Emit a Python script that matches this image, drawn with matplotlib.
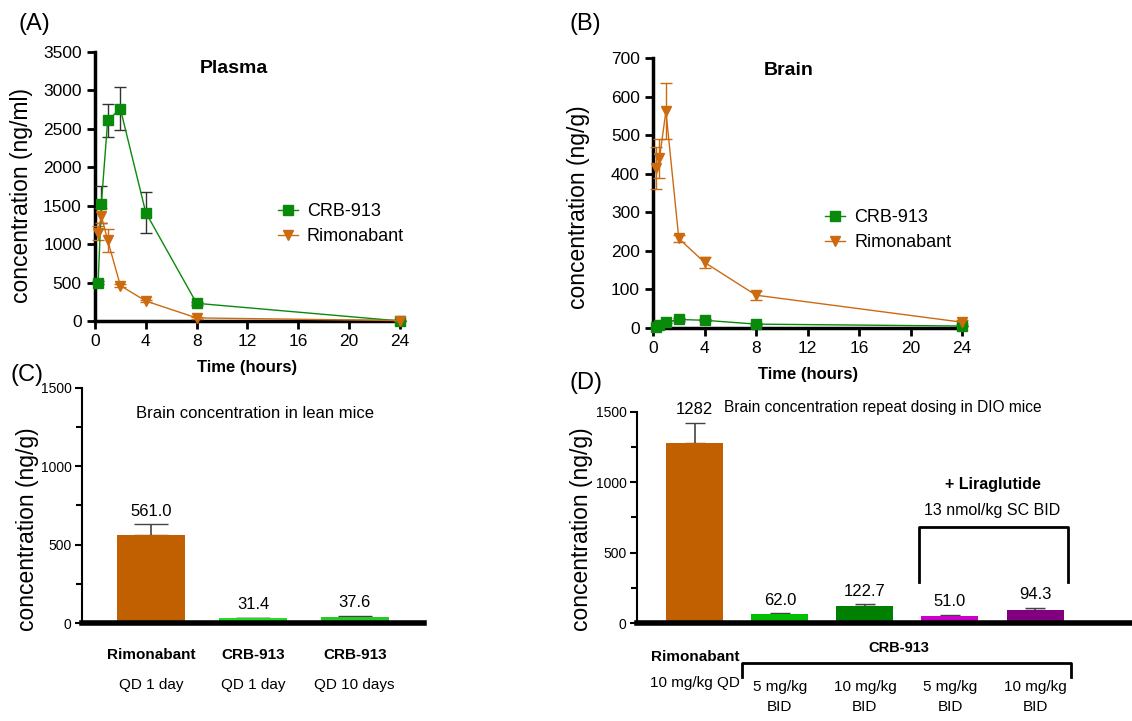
import matplotlib
matplotlib.use("Agg")
import matplotlib.pyplot as plt
from matplotlib.ticker import MultipleLocator
import matplotlib.transforms as mtrans

plt.rcParams['font.family'] = ['Liberation Sans', 'DejaVu Sans']

# ---------------- data ----------------
# (A) plasma PK
time_h = [0.25, 0.5, 1, 2, 4, 8, 24]
plasma_crb = [500, 1520, 2610, 2760, 1410, 230, 0]
plasma_crb_err = [15, 240, 210, 280, 270, 20, 5]
plasma_rimo = [1150, 1370, 1050, 460, 260, 40, 5]
plasma_rimo_err = [90, 100, 150, 20, 15, 10, 3]

# (B) brain PK
brain_crb = [2, 8, 15, 22, 20, 10, 5]
brain_crb_err = [1, 2, 3, 3, 3, 2, 1]
brain_rimo = [415, 440, 562, 232, 170, 85, 15]
brain_rimo_err = [55, 50, 73, 10, 15, 12, 5]

# (C) lean mice
lean_names = ['Rimonabant', 'CRB-913', 'CRB-913']
lean_dosing = ['QD 1 day', 'QD 1 day', 'QD 10 days']
lean_vals = [561.0, 31.4, 37.6]
lean_err = [70, 3, 8]
lean_colors = ['#C06000', '#22DD22', '#22CC22']

# (D) DIO mice
dio_dose = ['10 mg/kg QD', '5 mg/kg\nBID', '10 mg/kg\nBID', '5 mg/kg\nBID', '10 mg/kg\nBID']
dio_vals = [1282, 62.0, 122.7, 51.0, 94.3]
dio_err = [140, 8, 10, 6, 13]
dio_labels = ['1282', '62.0', '122.7', '51.0', '94.3']
dio_colors = ['#C06000', '#00C000', '#008000', '#CC00CC', '#800080']

GREEN = '#0A8A0A'
ORANGE = '#CC6A10'
FS = 11  # text size in the bar panels

fig = plt.figure(figsize=(11.32, 7.21), dpi=100)


def style_pk(ax):
    for s in ['top', 'right']:
        ax.spines[s].set_visible(False)
    for s in ['left', 'bottom']:
        ax.spines[s].set_linewidth(2.5)
    ax.tick_params(width=2, length=6, labelsize=12.5, direction='out')
    ax.set_xlim(0, 24)
    ax.set_xticks([0, 4, 8, 12, 16, 20, 24])
    ax.set_xlabel('Time (hours)', fontsize=12, fontweight='bold', labelpad=8)


def pk_panel(ax, crb, crb_err, rimo, rimo_err, ymax, ystep, ylabel, title, tpos, lpos, lcoord):
    ax.errorbar(time_h, crb, yerr=crb_err, color=GREEN, ecolor='#333333', marker='s', ms=7,
                lw=1, elinewidth=1, capsize=4, label='CRB-913', clip_on=False, zorder=3)
    ax.errorbar(time_h, rimo, yerr=rimo_err, color=ORANGE, ecolor=ORANGE, marker='v', ms=7,
                lw=1, elinewidth=1, capsize=4, label='Rimonabant', clip_on=False, zorder=3)
    ax.set_ylim(0, ymax)
    ax.yaxis.set_major_locator(MultipleLocator(ystep))
    ax.set_ylabel(ylabel, fontsize=16.5)
    ax.yaxis.set_label_coords(*lcoord)
    ax.text(tpos[0], tpos[1], title, transform=ax.transAxes, fontsize=14,
            fontweight='bold', ha='center', va='center')
    style_pk(ax)
    handles, labels = ax.get_legend_handles_labels()
    handles = [h[0] for h in handles]
    ax.legend(handles, labels, frameon=False, fontsize=13, loc='center left',
              bbox_to_anchor=lpos, handlelength=1.1, handletextpad=0.5,
              borderaxespad=0, borderpad=0, labelspacing=0.45)


axA = fig.add_axes([0.0839, 0.5548, 0.2694, 0.3731])
pk_panel(axA, plasma_crb, plasma_crb_err, plasma_rimo, plasma_rimo_err,
         3500, 500, 'concentration (ng/ml)', 'Plasma', (0.456, 0.94), (0.60, 0.359),
         (-0.203, 0.465))

axB = fig.add_axes([0.5769, 0.5451, 0.2730, 0.3745])
pk_panel(axB, brain_crb, brain_crb_err, brain_rimo, brain_rimo_err,
         700, 100, 'concentration (ng/g)', 'Brain', (0.44, 0.955), (0.557, 0.363),
         (-0.205, 0.448))


def style_bar(ax, lcoord):
    for s in ['top', 'right']:
        ax.spines[s].set_visible(False)
    ax.spines['left'].set_linewidth(1.5)
    ax.spines['bottom'].set_linewidth(4)
    ax.set_ylim(0, 1500)
    ax.yaxis.set_major_locator(MultipleLocator(500))
    ax.yaxis.set_minor_locator(MultipleLocator(250))
    ax.tick_params(axis='y', which='both', width=1.5, labelsize=10)
    ax.tick_params(axis='y', which='major', length=5, pad=2.5)
    ax.tick_params(axis='y', which='minor', length=4)
    ax.tick_params(axis='x', length=0, labelbottom=False)
    ax.set_ylabel('concentration (ng/g)', fontsize=16.5)
    ax.yaxis.set_label_coords(*lcoord)


# (C)
axC = fig.add_axes([0.0724, 0.1359, 0.3021, 0.3260])
xc = list(range(len(lean_vals)))
axC.bar(xc, lean_vals, width=0.67, color=lean_colors, zorder=2)
axC.errorbar(xc, lean_vals, yerr=[[0] * 3, lean_err], fmt='none', ecolor='#444444',
             elinewidth=1.2, capsize=12.5, zorder=1)
axC.set_xlim(-0.68, 2.68)
style_bar(axC, (-0.125, 0.40))
for x, v, e in zip(xc, lean_vals, lean_err):
    axC.text(x, v + e + 35, f'{v:.1f}', ha='center', va='bottom', fontsize=12)
axC.text(1.02, 1340, 'Brain concentration in lean mice', ha='center', va='center',
         fontsize=12)
trC = mtrans.blended_transform_factory(axC.transData, axC.transAxes)
for x, n, d in zip(xc, lean_names, lean_dosing):
    axC.text(x, -0.136, n, transform=trC, ha='center', va='center', fontsize=FS,
             fontweight='bold')
    axC.text(x, -0.264, d, transform=trC, ha='center', va='center', fontsize=FS)

# (D)
axD = fig.add_axes([0.5627, 0.1359, 0.4373, 0.2927])
xd = list(range(len(dio_vals)))
axD.bar(xd, dio_vals, width=0.67, color=dio_colors, zorder=2)
axD.errorbar(xd, dio_vals, yerr=[[0] * 5, dio_err], fmt='none', ecolor='#444444',
             elinewidth=1.2, capsize=7, zorder=1)
axD.set_xlim(-0.68, 5.14)
style_bar(axD, (-0.088, 0.445))
for x, v, e, t in zip(xd, dio_vals, dio_err, dio_labels):
    axD.text(x, v + e + 40, t, ha='center', va='bottom', fontsize=12)
axD.text(2.21, 1535, 'Brain concentration repeat dosing in DIO mice', ha='center',
         va='center', fontsize=11.2)
# liraglutide bracket
axD.plot([2.64, 2.64, 4.39, 4.39], [290, 680, 680, 290], color='black', lw=2, clip_on=False)
axD.text(3.5, 988, '+ Liraglutide', ha='center', va='center', fontsize=FS + 0.5,
         fontweight='bold')
axD.text(3.5, 803, '13 nmol/kg SC BID', ha='center', va='center', fontsize=FS + 0.5)

trD = mtrans.blended_transform_factory(axD.transData, axD.transAxes)
axD.text(0, -0.161, 'Rimonabant', transform=trD, ha='center', va='center', fontsize=FS,
         fontweight='bold')
axD.text(0, -0.284, dio_dose[0], transform=trD, ha='center', va='center', fontsize=FS)
axD.text(2.4, -0.118, 'CRB-913', transform=trD, ha='center', va='center', fontsize=10.5,
         fontweight='bold')
axD.plot([0.55, 0.55, 4.42, 4.42], [-0.256, -0.19, -0.19, -0.256], color='black', lw=2,
         transform=trD, clip_on=False)
for x, d in zip(xd[1:], dio_dose[1:]):
    axD.text(x, -0.35, d, transform=trD, ha='center', va='center', fontsize=FS,
             linespacing=1.6)

# panel letters
fig.text(0.016, 0.958, '(A)', fontsize=17)
fig.text(0.503, 0.958, '(B)', fontsize=17)
fig.text(0.009, 0.472, '(C)', fontsize=17)
fig.text(0.503, 0.460, '(D)', fontsize=17)

fig.savefig('out.png', dpi=100)
